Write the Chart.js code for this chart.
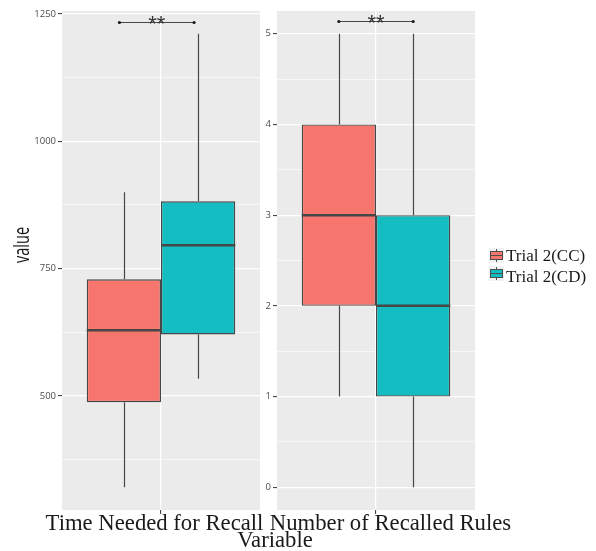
<!DOCTYPE html>
<html><head><meta charset="utf-8">
<script src="https://cdn.jsdelivr.net/npm/chart.js@4/dist/chart.umd.min.js"></script>
<style>
html,body{margin:0;padding:0;background:#fff;width:596px;height:551px;overflow:hidden;}
#wrap{position:relative;width:596px;height:551px;}
canvas{position:absolute;left:0;top:0;}
.t{position:absolute;white-space:nowrap;color:#1a1a1a;}
.key{position:absolute;width:15px;height:15px;background:#F2F2F2;}
.key .w{position:absolute;left:7px;top:1px;width:1px;height:13px;background:#4d4d4d;}
.key .b{position:absolute;left:1px;top:3px;width:11px;height:7px;border:1px solid #4d4d4d;}
.key .m{position:absolute;left:1px;top:7px;width:13px;height:1px;background:#4d4d4d;}
</style></head><body>
<div id="wrap">
<canvas id="c1" width="596" height="551"></canvas>
<canvas id="c2" width="596" height="551"></canvas>
</div>
<script>
// ---- data ----
const categories = ['Time Needed for Recall', 'Number of Recalled Rules'];
const seriesNames = ['Trial 2(CC)', 'Trial 2(CD)'];
// box statistics: [lower whisker, Q1, median, Q3, upper whisker]
const timeCC  = [321, 488, 629, 729, 900];
const timeCD  = [534, 621, 796, 882, 1211];
const rulesCC = [1, 2, 3, 4, 5];
const rulesCD = [0, 1, 2, 3, 5];
const timeTicks  = [500, 750, 1000, 1250];
const rulesTicks = [0, 1, 2, 3, 4, 5];
const sigValues = [1233, 5.135];
const sigLabels = ['**', '**'];
const xTitle = 'Variable';
const yTitle = 'value';

const fills = ['#F6756D', '#13BDC2'];
const edge = '#474747';

const boxPlugin = {
  id: 'boxExtras',
  beforeDraw(chart) {
    const a = chart.chartArea, c = chart.ctx;
    c.save(); c.fillStyle = '#EBEBEB';
    c.fillRect(a.left, a.top, a.right - a.left, a.bottom - a.top);
    c.restore();
  },
  beforeDatasetsDraw(chart) {
    const c = chart.ctx, ys = chart.scales.y;
    c.save(); c.strokeStyle = edge; c.lineWidth = 1.2;
    chart.data.datasets.forEach((ds, i) => {
      const el = chart.getDatasetMeta(i).data[0];
      const s = ds.stats, x = Math.round(el.x) + 0.5;
      c.beginPath();
      c.moveTo(x, ys.getPixelForValue(s[3])); c.lineTo(x, ys.getPixelForValue(s[4]));
      c.moveTo(x, ys.getPixelForValue(s[1])); c.lineTo(x, ys.getPixelForValue(s[0]));
      c.stroke();
    });
    c.restore();
  },
  afterDatasetsDraw(chart) {
    const c = chart.ctx, ys = chart.scales.y;
    c.save(); c.strokeStyle = edge; c.lineWidth = 2.5;
    chart.data.datasets.forEach((ds, i) => {
      const el = chart.getDatasetMeta(i).data[0];
      const y = ys.getPixelForValue(ds.stats[2]);
      c.beginPath(); c.moveTo(el.x - el.width / 2, y); c.lineTo(el.x + el.width / 2, y); c.stroke();
    });
    c.restore();
  },
  afterDraw(chart) {
    const o = chart.options.plugins.boxExtras;
    const c = chart.ctx, xs = chart.scales.x, ys = chart.scales.y;
    const px = xs.getPixelForValue(0), w = xs.width;
    const x1 = px + o.sigOffsets[0] * w, x2 = px + o.sigOffsets[1] * w;
    const y = Math.round(ys.getPixelForValue(o.sigValue)) + 0.5;
    c.save();
    c.strokeStyle = edge; c.lineWidth = 1.1;
    c.beginPath(); c.moveTo(x1, y); c.lineTo(x2, y); c.stroke();
    c.fillStyle = '#1a1a1a';
    [x1, x2].forEach(x => { c.beginPath(); c.arc(x, y, 1.6, 0, Math.PI * 2); c.fill(); });
    c.fillStyle = '#333';
    c.font = '22px "Liberation Sans"';
    c.textAlign = 'center'; c.textBaseline = 'alphabetic';
    c.fillText(o.sigLabel, (x1 + x2) / 2, y + 8.5);
    c.restore();
  }
};

function makeChart(id, cat, stats, majors, sigValue, sigLabel, sigOffsets, left, right) {
  const all = stats.flat();
  const lo = Math.min(...all), hi = Math.max(...all), pad = (hi - lo) * 0.05;
  const ymin = lo - pad, ymax = hi + pad;
  const step = majors[1] - majors[0];
  const tickVals = [];
  majors.forEach(m => tickVals.push(m - step / 2, m));
  tickVals.push(majors[majors.length - 1] + step / 2);
  const vals = tickVals.filter(v => v >= ymin && v <= ymax).sort((a, b) => a - b);
  const isMajor = v => majors.some(m => Math.abs(m - v) < 1e-9);
  return new Chart(document.getElementById(id), {
    type: 'bar',
    data: {
      labels: [cat],
      datasets: stats.map((s, i) => ({
        label: seriesNames[i],
        data: [[s[1], s[3]]],
        stats: s,
        backgroundColor: fills[i],
        borderColor: edge,
        borderWidth: 1.4,
        borderSkipped: false,
        categoryPercentage: 0.75,
        barPercentage: 1
      }))
    },
    options: {
      responsive: false, animation: false, devicePixelRatio: 1,
      layout: { padding: { left: left - 40, right: 596 - right, top: 11, bottom: 0 } },
      plugins: {
        legend: { display: false }, tooltip: { enabled: false },
        boxExtras: { sigValue, sigLabel, sigOffsets }
      },
      scales: {
        x: {
          type: 'category', offset: true,
          border: { display: false },
          grid: { offset: false, color: '#ffffff', lineWidth: 1.2, drawTicks: true, tickLength: 4, tickColor: '#333333', tickWidth: 1 },
          ticks: { display: false },
          afterFit: s => { s.height = 41; }
        },
        y: {
          min: ymin, max: ymax,
          border: { display: false },
          afterBuildTicks: s => { s.ticks = vals.map(v => ({ value: v })); },
          grid: {
            color: '#ffffff',
            lineWidth: ctx => isMajor(ctx.tick.value) ? 1.2 : 0.6,
            drawTicks: true, tickLength: 4, tickWidth: 1,
            tickColor: ctx => isMajor(ctx.tick.value) ? '#333333' : 'rgba(0,0,0,0)'
          },
          ticks: {
            autoSkip: false, padding: 2, color: '#4d4d4d',
            font: { family: 'Open Sans', size: 9.5 },
            callback: v => isMajor(v) ? String(v) : ''
          },
          afterFit: s => { s.width = 40; }
        }
      }
    },
    plugins: [boxPlugin]
  });
}

makeChart('c1', categories[0], [timeCC, timeCD], timeTicks, sigValues[0], sigLabels[0], [-0.21, 0.167], 62, 260);
makeChart('c2', categories[1], [rulesCC, rulesCD], rulesTicks, sigValues[1], sigLabels[1], [-0.1875, 0.1875], 277, 475);

// ---- text and legend (HTML) ----
const wrap = document.getElementById('wrap');
function addText(txt, x, baseline, size, family, ascentRatio, align, extra) {
  const d = document.createElement('div');
  d.className = 't';
  d.textContent = txt;
  d.style.fontFamily = family;
  d.style.fontSize = size + 'px';
  d.style.lineHeight = size + 'px';
  d.style.top = (baseline - ascentRatio * size) + 'px';
  d.style.left = x + 'px';
  if (align === 'center') d.style.transform = 'translateX(-50%)';
  if (extra) Object.assign(d.style, extra);
  wrap.appendChild(d);
  return d;
}
const serif = '"Liberation Serif", serif';
addText(categories[0], 154.5, 531.5, 22.7, serif, 0.8375, 'center');
addText(categories[1], 390.5, 531.5, 22.7, serif, 0.8375, 'center');
addText(xTitle, 275, 548.5, 22.7, serif, 0.8375, 'center');

// y title rotated
const yt = document.createElement('div');
yt.className = 't';
yt.textContent = yTitle;
Object.assign(yt.style, {
  fontFamily: '"Open Sans", sans-serif', fontSize: '22px', lineHeight: '22px',
  left: '19.5px', top: '245px', color: '#111',
  transform: 'translate(-50%,-50%) rotate(-90deg) scaleX(0.66)'
});
wrap.appendChild(yt);

// legend
seriesNames.forEach((name, i) => {
  const top = 248 + i * 18;
  const k = document.createElement('div');
  k.className = 'key';
  k.style.left = '489px'; k.style.top = top + 'px';
  k.innerHTML = '<div class="w"></div><div class="b" style="background:' + fills[i] + '"></div><div class="m"></div>';
  wrap.appendChild(k);
  addText(name, 506, 261 + i * 21, 17, serif, 0.8375, 'left');
});
</script>
</body></html>
